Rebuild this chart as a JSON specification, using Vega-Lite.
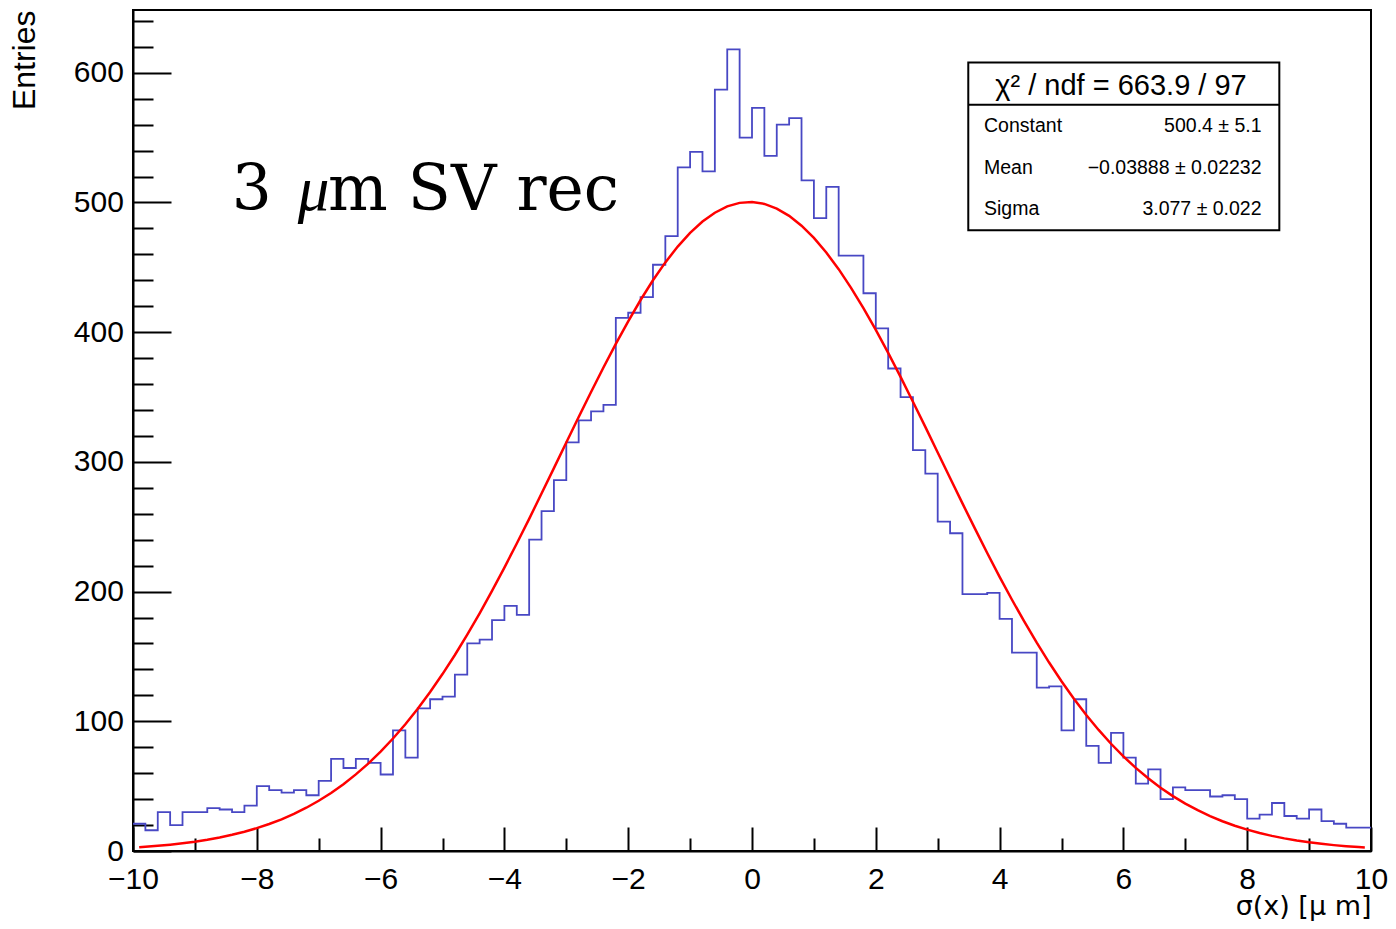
{
  "$schema": "https://vega.github.io/schema/vega-lite/v6.json",
  "width": 1238,
  "height": 841,
  "autosize": "none",
  "padding": {"left": 133, "top": 10, "right": 25, "bottom": 78},
  "background": "white",
  "config": {
    "view": {"stroke": "black", "strokeWidth": 2},
    "axis": {
      "domainColor": "black", "domainWidth": 2,
      "tickColor": "black", "tickWidth": 2,
      "labelFont": "Liberation Sans", "labelFontSize": 30, "labelColor": "black",
      "titleFont": "Liberation Sans", "titleFontSize": 32, "titleFontWeight": "normal", "titleColor": "black",
      "grid": false, "labelOverlap": false, "labelFlush": false, "labelBound": false
    }
  },
  "datasets": {
    "hist": [
      {"x": -10, "y": 21}, {"x": -9.8, "y": 16}, {"x": -9.6, "y": 30}, {"x": -9.4, "y": 20}, {"x": -9.2, "y": 30},
      {"x": -9, "y": 30}, {"x": -8.8, "y": 33}, {"x": -8.6, "y": 32}, {"x": -8.4, "y": 30}, {"x": -8.2, "y": 35},
      {"x": -8, "y": 50}, {"x": -7.8, "y": 47}, {"x": -7.6, "y": 45}, {"x": -7.4, "y": 47}, {"x": -7.2, "y": 43},
      {"x": -7, "y": 54}, {"x": -6.8, "y": 71}, {"x": -6.6, "y": 64}, {"x": -6.4, "y": 71}, {"x": -6.2, "y": 68},
      {"x": -6, "y": 59}, {"x": -5.8, "y": 93}, {"x": -5.6, "y": 72}, {"x": -5.4, "y": 110}, {"x": -5.2, "y": 117},
      {"x": -5, "y": 119}, {"x": -4.8, "y": 136}, {"x": -4.6, "y": 160}, {"x": -4.4, "y": 163}, {"x": -4.2, "y": 178},
      {"x": -4, "y": 189}, {"x": -3.8, "y": 182}, {"x": -3.6, "y": 240}, {"x": -3.4, "y": 262}, {"x": -3.2, "y": 286},
      {"x": -3, "y": 315}, {"x": -2.8, "y": 332}, {"x": -2.6, "y": 339}, {"x": -2.4, "y": 344}, {"x": -2.2, "y": 411},
      {"x": -2, "y": 415}, {"x": -1.8, "y": 427}, {"x": -1.6, "y": 452}, {"x": -1.4, "y": 474}, {"x": -1.2, "y": 527},
      {"x": -1, "y": 539}, {"x": -0.8, "y": 524}, {"x": -0.6, "y": 587}, {"x": -0.4, "y": 618}, {"x": -0.2, "y": 550},
      {"x": 0, "y": 573}, {"x": 0.2, "y": 536}, {"x": 0.4, "y": 560}, {"x": 0.6, "y": 565}, {"x": 0.8, "y": 517},
      {"x": 1, "y": 488}, {"x": 1.2, "y": 512}, {"x": 1.4, "y": 459}, {"x": 1.6, "y": 459}, {"x": 1.8, "y": 430},
      {"x": 2, "y": 403}, {"x": 2.2, "y": 372}, {"x": 2.4, "y": 350}, {"x": 2.6, "y": 309}, {"x": 2.8, "y": 291},
      {"x": 3, "y": 254}, {"x": 3.2, "y": 245}, {"x": 3.4, "y": 198}, {"x": 3.6, "y": 198}, {"x": 3.8, "y": 199},
      {"x": 4, "y": 179}, {"x": 4.2, "y": 153}, {"x": 4.4, "y": 153}, {"x": 4.6, "y": 126}, {"x": 4.8, "y": 127},
      {"x": 5, "y": 93}, {"x": 5.2, "y": 117}, {"x": 5.4, "y": 81}, {"x": 5.6, "y": 68}, {"x": 5.8, "y": 91},
      {"x": 6, "y": 72}, {"x": 6.2, "y": 52}, {"x": 6.4, "y": 63}, {"x": 6.6, "y": 40}, {"x": 6.8, "y": 49},
      {"x": 7, "y": 47}, {"x": 7.2, "y": 47}, {"x": 7.4, "y": 42}, {"x": 7.6, "y": 43}, {"x": 7.8, "y": 40},
      {"x": 8, "y": 25}, {"x": 8.2, "y": 28}, {"x": 8.4, "y": 37}, {"x": 8.6, "y": 27}, {"x": 8.8, "y": 25},
      {"x": 9, "y": 32}, {"x": 9.2, "y": 23}, {"x": 9.4, "y": 21}, {"x": 9.6, "y": 18}, {"x": 9.8, "y": 18},
      {"x": 10, "y": 18}
    ],
    "fit": [
      {"x": -9.9, "y": 2.95}, {"x": -9.8, "y": 3.27}, {"x": -9.6, "y": 4.01}, {"x": -9.4, "y": 4.89}, {"x": -9.2, "y": 5.95},
      {"x": -9, "y": 7.2}, {"x": -8.8, "y": 8.69}, {"x": -8.6, "y": 10.43}, {"x": -8.4, "y": 12.47}, {"x": -8.2, "y": 14.85},
      {"x": -8, "y": 17.61}, {"x": -7.8, "y": 20.79}, {"x": -7.6, "y": 24.44}, {"x": -7.4, "y": 28.61}, {"x": -7.2, "y": 33.35},
      {"x": -7, "y": 38.72}, {"x": -6.8, "y": 44.76}, {"x": -6.6, "y": 51.53}, {"x": -6.4, "y": 59.06}, {"x": -6.2, "y": 67.41},
      {"x": -6, "y": 76.62}, {"x": -5.8, "y": 86.72}, {"x": -5.6, "y": 97.74}, {"x": -5.4, "y": 109.7}, {"x": -5.2, "y": 122.6},
      {"x": -5, "y": 136.4}, {"x": -4.8, "y": 151.1}, {"x": -4.6, "y": 166.8}, {"x": -4.4, "y": 183.3}, {"x": -4.2, "y": 200.5},
      {"x": -4, "y": 218.5}, {"x": -3.8, "y": 237.1}, {"x": -3.6, "y": 256.1}, {"x": -3.4, "y": 275.6}, {"x": -3.2, "y": 295.2},
      {"x": -3, "y": 314.9}, {"x": -2.8, "y": 334.6}, {"x": -2.6, "y": 353.9}, {"x": -2.4, "y": 372.8}, {"x": -2.2, "y": 391.0},
      {"x": -2, "y": 408.4}, {"x": -1.8, "y": 424.8}, {"x": -1.6, "y": 440.0}, {"x": -1.4, "y": 453.8}, {"x": -1.2, "y": 466.0},
      {"x": -1, "y": 476.6}, {"x": -0.8, "y": 485.3}, {"x": -0.6, "y": 492.1}, {"x": -0.4, "y": 497.0}, {"x": -0.2, "y": 499.7},
      {"x": 0, "y": 500.4}, {"x": 0.2, "y": 498.9}, {"x": 0.4, "y": 495.3}, {"x": 0.6, "y": 489.7}, {"x": 0.8, "y": 482.1},
      {"x": 1, "y": 472.7}, {"x": 1.2, "y": 461.4}, {"x": 1.4, "y": 448.6}, {"x": 1.6, "y": 434.2}, {"x": 1.8, "y": 418.6},
      {"x": 2, "y": 401.8}, {"x": 2.2, "y": 384.0}, {"x": 2.4, "y": 365.5}, {"x": 2.6, "y": 346.4}, {"x": 2.8, "y": 327.0},
      {"x": 3, "y": 307.3}, {"x": 3.2, "y": 287.6}, {"x": 3.4, "y": 268.0}, {"x": 3.6, "y": 248.7}, {"x": 3.8, "y": 229.8},
      {"x": 4, "y": 211.4}, {"x": 4.2, "y": 193.7}, {"x": 4.4, "y": 176.8}, {"x": 4.6, "y": 160.6}, {"x": 4.8, "y": 145.3},
      {"x": 5, "y": 130.9}, {"x": 5.2, "y": 117.4}, {"x": 5.4, "y": 104.9}, {"x": 5.6, "y": 93.33}, {"x": 5.8, "y": 82.68},
      {"x": 6, "y": 72.93}, {"x": 6.2, "y": 64.07}, {"x": 6.4, "y": 56.03}, {"x": 6.6, "y": 48.8}, {"x": 6.8, "y": 42.33},
      {"x": 7, "y": 36.56}, {"x": 7.2, "y": 31.44}, {"x": 7.4, "y": 26.92}, {"x": 7.6, "y": 22.96}, {"x": 7.8, "y": 19.49},
      {"x": 8, "y": 16.49}, {"x": 8.2, "y": 13.88}, {"x": 8.4, "y": 11.64}, {"x": 8.6, "y": 9.72}, {"x": 8.8, "y": 8.08},
      {"x": 9, "y": 6.69}, {"x": 9.2, "y": 5.52}, {"x": 9.4, "y": 4.53}, {"x": 9.6, "y": 3.7}, {"x": 9.8, "y": 3.02},
      {"x": 9.9, "y": 2.72}
    ],
    "box": [{"x": 3.494, "x2": 8.519, "y": 478.6, "y2": 608.0}],
    "divider": [{"x": 3.494, "x2": 8.519, "y": 575.4}],
    "boxtitle": [{"x": 5.961, "y": 582.8, "t": "χ² / ndf = 663.9 / 97"}],
    "statlab": [
      {"x": 3.748, "y": 554.0, "t": "Constant"},
      {"x": 3.748, "y": 521.8, "t": "Mean"},
      {"x": 3.748, "y": 490.2, "t": "Sigma"}
    ],
    "statval": [
      {"x": 8.232, "y": 554.0, "t": "500.4 ± 5.1"},
      {"x": 8.232, "y": 521.8, "t": "−0.03888 ± 0.02232"},
      {"x": 8.232, "y": 490.2, "t": "3.077 ± 0.022"}
    ],
    "annot": [
      {"x": -8.405, "y": 494.1, "t": "3"},
      {"x": -7.34, "y": 494.1, "t": "μ"},
      {"x": -6.85, "y": 494.1, "t": "m SV rec"}
    ]
  },
  "encoding": {
    "x": {
      "field": "x", "type": "quantitative",
      "scale": {"domain": [-10, 10], "nice": false, "zero": false},
      "axis": {
        "values": [-10,-9.5,-9,-8.5,-8,-7.5,-7,-6.5,-6,-5.5,-5,-4.5,-4,-3.5,-3,-2.5,-2,-1.5,-1,-0.5,0,0.5,1,1.5,2,2.5,3,3.5,4,4.5,5,5.5,6,6.5,7,7.5,8,8.5,9,9.5,10],
        "format": "d",
        "tickSize": {"condition": {"test": "datum.value % 2 === 0", "value": -24}, "value": -13},
        "labelPadding": 37.5,
        "labelExpr": "datum.value % 2 === 0 ? datum.label : ''",
        "title": "σ(x) [μ m]",
        "titleFont": "DejaVu Sans", "titleFontSize": 27,
        "titleX": 1238, "titleY": 63, "titleAlign": "right", "titleBaseline": "alphabetic", "titleAngle": 0
      }
    },
    "y": {
      "field": "y", "type": "quantitative",
      "scale": {"domain": [0, 648.4], "nice": false, "zero": false},
      "axis": {
        "values": [0,20,40,60,80,100,120,140,160,180,200,220,240,260,280,300,320,340,360,380,400,420,440,460,480,500,520,540,560,580,600,620,640],
        "format": "d",
        "tickSize": {"condition": {"test": "datum.value % 100 === 0", "value": -38}, "value": -20},
        "labelPadding": 47.6,
        "labelExpr": "datum.value % 100 === 0 ? datum.label : ''",
        "title": "Entries",
        "titleX": -99, "titleY": 0, "titleAlign": "right", "titleBaseline": "alphabetic", "titleAngle": 270
      }
    }
  },
  "layer": [
    {
      "data": {"name": "hist"},
      "mark": {"type": "line", "interpolate": "step-after", "color": "#4848c4", "strokeWidth": 1.8}
    },
    {
      "data": {"name": "fit"},
      "mark": {"type": "line", "color": "#ff0000", "strokeWidth": 2.5}
    },
    {
      "data": {"name": "box"},
      "mark": {"type": "rect", "fill": "white", "stroke": "black", "strokeWidth": 2},
      "encoding": {"x2": {"field": "x2"}, "y2": {"field": "y2"}}
    },
    {
      "data": {"name": "divider"},
      "mark": {"type": "rule", "color": "black", "strokeWidth": 2},
      "encoding": {"x2": {"field": "x2"}}
    },
    {
      "data": {"name": "boxtitle"},
      "mark": {"type": "text", "font": "Liberation Sans", "fontSize": 29, "align": "center", "baseline": "alphabetic", "color": "black"},
      "encoding": {"text": {"field": "t"}}
    },
    {
      "data": {"name": "statlab"},
      "mark": {"type": "text", "font": "Liberation Sans", "fontSize": 19.5, "align": "left", "baseline": "alphabetic", "color": "black"},
      "encoding": {"text": {"field": "t"}}
    },
    {
      "data": {"name": "statval"},
      "mark": {"type": "text", "font": "Liberation Sans", "fontSize": 19.5, "align": "right", "baseline": "alphabetic", "color": "black"},
      "encoding": {"text": {"field": "t"}}
    },
    {
      "data": {"name": "annot"},
      "transform": [{"filter": "datum.t !== 'μ'"}],
      "mark": {"type": "text", "font": "DejaVu Serif", "fontSize": 63, "align": "left", "baseline": "alphabetic", "color": "black"},
      "encoding": {"text": {"field": "t"}}
    },
    {
      "data": {"name": "annot"},
      "transform": [{"filter": "datum.t === 'μ'"}],
      "mark": {"type": "text", "font": "Liberation Serif", "fontSize": 63, "fontStyle": "italic", "align": "left", "baseline": "alphabetic", "color": "black"},
      "encoding": {"text": {"field": "t"}}
    }
  ]
}
